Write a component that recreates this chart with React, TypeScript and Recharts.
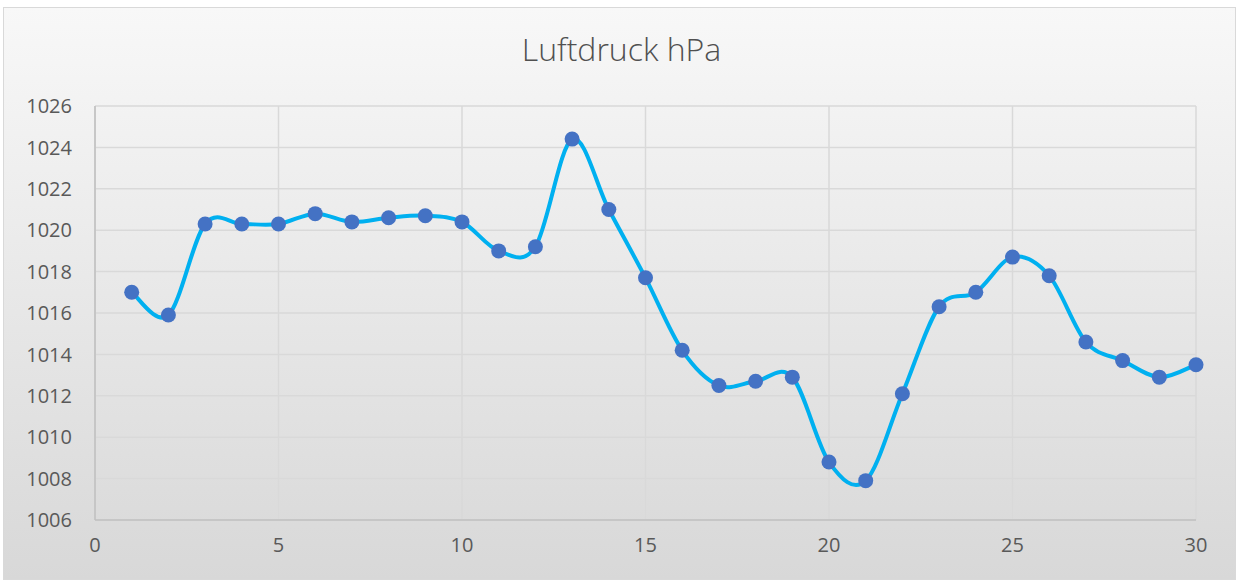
import { LineChart, Line, XAxis, YAxis, CartesianGrid } from "recharts";

const days = [
  1, 2, 3, 4, 5, 6, 7, 8, 9, 10, 11, 12, 13, 14, 15, 16, 17, 18, 19, 20, 21,
  22, 23, 24, 25, 26, 27, 28, 29, 30,
];
const pressure = [
  1017.0, 1015.9, 1020.3, 1020.3, 1020.3, 1020.8, 1020.4, 1020.6, 1020.7,
  1020.4, 1019.0, 1019.2, 1024.4, 1021.0, 1017.7, 1014.2, 1012.5, 1012.7,
  1012.9, 1008.8, 1007.9, 1012.1, 1016.3, 1017.0, 1018.7, 1017.8, 1014.6,
  1013.7, 1012.9, 1013.5,
];
const xTicks = [0, 5, 10, 15, 20, 25, 30];
const yTicks = [1006, 1008, 1010, 1012, 1014, 1016, 1018, 1020, 1022, 1024, 1026];

const data = days.map((day, i) => ({ day, hpa: pressure[i] }));

// smoothed line like the office "smooth line" option (catmull-rom style beziers)
const smoothCurve = (context: any) => {
  let pts: [number, number][] = [];
  return {
    areaStart() {},
    areaEnd() {},
    lineStart() {
      pts = [];
    },
    lineEnd() {
      if (!pts.length) return;
      context.moveTo(pts[0][0], pts[0][1]);
      for (let i = 0; i < pts.length - 1; i++) {
        const p0 = pts[i - 1] || pts[i];
        const p1 = pts[i];
        const p2 = pts[i + 1];
        const p3 = pts[i + 2] || p2;
        context.bezierCurveTo(
          p1[0] + (p2[0] - p0[0]) / 6,
          p1[1] + (p2[1] - p0[1]) / 6,
          p2[0] - (p3[0] - p1[0]) / 6,
          p2[1] - (p3[1] - p1[1]) / 6,
          p2[0],
          p2[1]
        );
      }
    },
    point(x: number, y: number) {
      pts.push([+x, +y]);
    },
  };
};

const tickStyle = { fontSize: 20, fill: "#595959", fontFamily: "'Open Sans', sans-serif" };

export default function App() {
  return (
    <div style={{ position: "absolute", left: 0, top: 0, width: 1239, height: 582, background: "#fff" }}>
      <div
        style={{
          position: "absolute",
          left: 3,
          top: 7,
          width: 1231,
          height: 571,
          border: "1px solid #d9d9d9",
          background: "linear-gradient(to bottom, #f8f8f8 0%, #d8d8d8 100%)",
        }}
      />
      <div
        style={{
          position: "absolute",
          left: 0,
          top: 27,
          width: 1243,
          textAlign: "center",
          fontFamily: "'Open Sans', sans-serif",
          fontWeight: 300,
          fontSize: 32,
          color: "#505050",
        }}
      >
        Luftdruck hPa
      </div>
      <div style={{ position: "absolute", left: 0, top: 0 }}>
        <LineChart width={1239} height={582} data={data} margin={{ top: 106, right: 43, bottom: 32, left: 8 }}>
          <CartesianGrid stroke="#d9d9d9" strokeWidth={1.5} />
          <XAxis
            dataKey="day"
            type="number"
            domain={[0, 30]}
            ticks={xTicks}
            tick={tickStyle}
            tickLine={false}
            tickSize={0}
            tickMargin={18}
            axisLine={{ stroke: "#bfbfbf", strokeWidth: 1.5 }}
          />
          <YAxis
            width={87}
            domain={[1006, 1026]}
            ticks={yTicks}
            tick={tickStyle}
            tickLine={false}
            tickSize={0}
            tickMargin={23}
            axisLine={{ stroke: "#bfbfbf", strokeWidth: 1.5 }}
            allowDataOverflow
          />
          <Line
            dataKey="hpa"
            type={smoothCurve as any}
            stroke="#00b0f0"
            strokeWidth={4}
            dot={{ r: 7.5, fill: "#4472c4", stroke: "#4472c4", strokeWidth: 0 }}
            activeDot={false}
            isAnimationActive={false}
          />
        </LineChart>
      </div>
    </div>
  );
}
